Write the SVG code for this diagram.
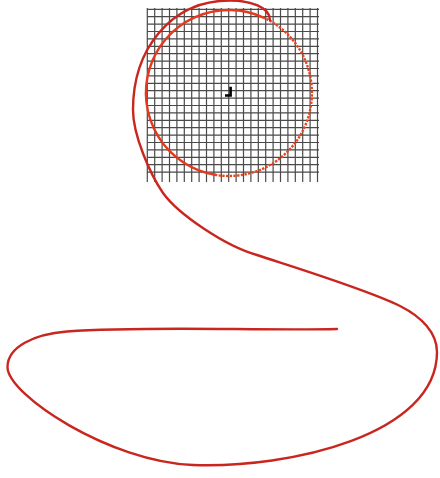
<svg xmlns="http://www.w3.org/2000/svg" width="440" height="478" viewBox="0 0 440 478">
<style>
.grid{fill:none;stroke:#4a4a4a;stroke-width:1.2}
.curve{fill:none;stroke:#c9261f;stroke-width:2.4;stroke-linecap:round;stroke-linejoin:round}
.ring{fill:none;stroke:#e5391e;stroke-width:2.4;stroke-linecap:round}
.ringdot{fill:none;stroke:#e8441f;stroke-width:2.4;stroke-dasharray:2.4 1.3}
</style>
<rect width="440" height="478" fill="#ffffff"/>
<g id="grid">
<path class="grid" d="M147.3 8V182M154.7 8V182M162.1 8V182M169.5 8V182M176.9 8V182M184.3 8V182M191.7 8V182M199.1 8V182M206.5 8V182M213.9 8V182M221.3 8V182M228.7 8V182M236.1 8V182M243.5 8V182M250.9 8V182M258.3 8V182M265.7 8V182M273.1 8V182M280.5 8V182M287.9 8V182M295.3 8V182M302.7 8V182M310.1 8V182M317.5 8V182"/>
<path class="grid" d="M147 9.3H319M147 16.7H319M147 24.1H319M147 31.5H319M147 38.9H319M147 46.3H319M147 53.7H319M147 61.1H319M147 68.5H319M147 75.9H319M147 83.3H319M147 90.7H319M147 98.1H319M147 105.5H319M147 112.9H319M147 120.3H319M147 127.7H319M147 135.1H319M147 142.5H319M147 149.9H319M147 157.3H319M147 164.7H319M147 172.1H319"/>
</g>
<g id="center-mark">
<path d="M225 95.5H230.6V86.7" fill="none" stroke="#000" stroke-width="2.6"/>
</g>
<g id="spiral">
<path class="ring" d="M263 17.3A83 83 0 1 0 215 174.8"/>
<path class="ringdot" d="M215 174.8A83 83 0 0 0 263 17.3"/>
<path class="curve" d="M337 329C260 331 150 325.5 67 331.5C33.8 334.1 7.5 347 7.5 367C7.5 395 110 462 193 465C290 468.5 437 435 437 352C437 333 422 317 400 306C367 289.5 290 266 257 255C225 246 178 214 163 193C150 174 133 135 133 110C133 50 170 0.5 230 0.5C250 0.5 270 7 270 20"/>
</g>
</svg>
